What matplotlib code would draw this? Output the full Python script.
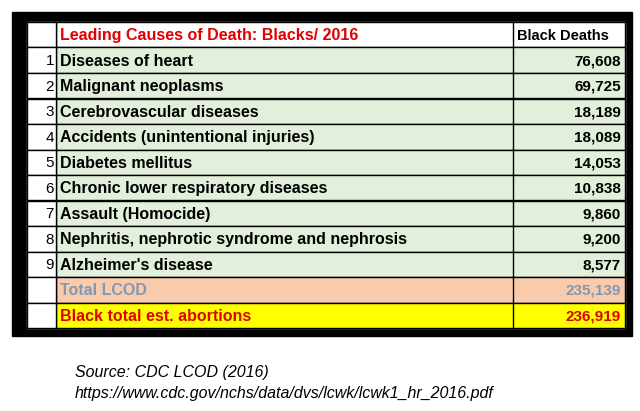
import matplotlib
matplotlib.use('Agg')
import matplotlib.pyplot as plt
from matplotlib.patches import Rectangle

title = "Leading Causes of Death: Blacks/ 2016"
col_head = "Black Deaths"
causes = ["Diseases of heart", "Malignant neoplasms", "Cerebrovascular diseases",
          "Accidents (unintentional injuries)", "Diabetes mellitus",
          "Chronic lower respiratory diseases", "Assault (Homocide)",
          "Nephritis, nephrotic syndrome and nephrosis", "Alzheimer's disease"]
deaths = [76608, 69725, 18189, 18089, 14053, 10838, 9860, 9200, 8577]
total_label = "Total LCOD"
total_value = 235139
abort_label = "Black total est. abortions"
abort_value = 236919
source = ["Source: CDC LCOD (2016)",
          "https://www.cdc.gov/nchs/data/dvs/lcwk/lcwk1_hr_2016.pdf"]

plt.rcParams['font.family'] = 'Liberation Sans'

W, H = 640, 411
fig = plt.figure(figsize=(W / 100, H / 100), dpi=100)
ax = fig.add_axes([0, 0, 1, 1])
ax.set_xlim(0, W)
ax.set_ylim(H, 0)
ax.axis('off')

# black frame
ax.add_patch(Rectangle((12, 12), 620, 324, color='black'))
ax.add_patch(Rectangle((27, 22), 598, 306, color='white'))

x0, x1, x2, x3 = 27, 56, 513, 625
y_top, rh = 22, 25.5
green = '#e2efda'
rows = [("", title, col_head, 'white', '#e00000', 'black')]
for i, (c, d) in enumerate(zip(causes, deaths)):
    rows.append((str(i + 1), c, f"{d:,}", green, 'black', 'black'))
rows.append(("", total_label, f"{total_value:,}", '#f8cbad', '#8497b0', '#8497b0'))
rows.append(("", abort_label, f"{abort_value:,}", '#ffff00', '#e00000', '#e00000'))

for r, (idx, lab, val, bg, c1, c2) in enumerate(rows):
    y = y_top + r * rh
    ax.add_patch(Rectangle((x1, y), x3 - x1, rh, facecolor=bg, edgecolor='black', lw=1))
    ax.add_patch(Rectangle((x0, y), x1 - x0, rh, facecolor='white', edgecolor='black', lw=1))
    ax.plot([x2, x2], [y, y + rh], color='black', lw=1)
    ym = y + rh / 2 + 1
    ax.text(x1 - 2, ym, idx, ha='right', va='center', fontsize=11, color='black')
    ax.text(x1 + 4, ym, lab, ha='left', va='center', fontsize=11.5, color=c1,
            fontweight='bold')
    ax.text(x3 - 4 if r else x2 + 4, ym, val, ha='right' if r else 'left', va='center',
            fontsize=11 if r else 10.5, color=c2, fontweight='bold')

ax.text(75, 372, source[0], fontsize=11.5, style='italic', va='center')
ax.text(75, 393, source[1], fontsize=11.5, style='italic', va='center')

fig.savefig('out.png', dpi=100)
